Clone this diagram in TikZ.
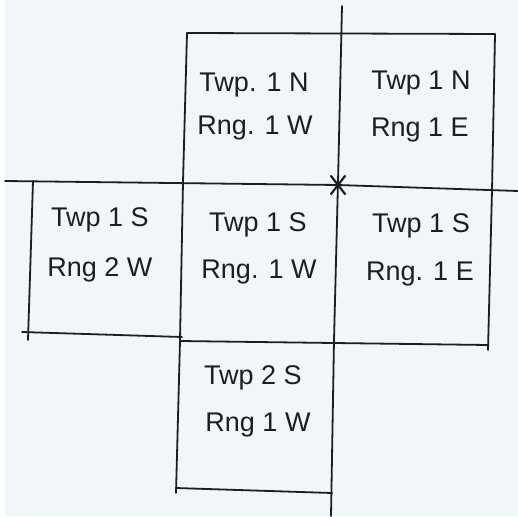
\documentclass[tikz,border=0pt]{standalone}
\usepackage{fontspec}
\setmainfont{Liberation Sans}
\definecolor{paper}{HTML}{F1F6F8}
\definecolor{pencil}{HTML}{1E1E22}
\begin{document}
\begin{tikzpicture}[x=1pt,y=-1pt,
  rule/.style={draw=pencil,line width=1.8pt,line cap=round},
  label/.style={font=\fontsize{27}{30}\selectfont,text=pencil,inner sep=0pt}]
  % paper
  \fill[white] (0,0) rectangle (518,516);
  \fill[paper] (5,0) rectangle (518,516);
  \useasboundingbox (0,0) rectangle (518,516);

  % range line and baseline through the corner
  \draw[rule] (342,6) -- (338,182) -- (334,340) -- (331,516);
  \draw[rule] (5,181) -- (338,185) -- (518,191);

  % top row
  \draw[rule] (187,33) -- (495,34);
  \draw[rule] (187,33) -- (183,182);
  \draw[rule] (495,34) -- (492,190);

  % middle row
  \draw[rule] (33,181) -- (28,340);
  \draw[rule] (22,332) -- (182,337);
  \draw[rule] (183,182) -- (180,340);
  \draw[rule] (180,341) -- (488,345);
  \draw[rule] (492,190) -- (488,350);

  % bottom township
  \draw[rule] (180,341) -- (176,493);
  \draw[rule] (176,488) -- (332,493);

  % corner mark
  \draw[rule,line width=2.2pt] (331,176) -- (345,194);
  \draw[rule,line width=2.2pt] (345,176) -- (331,194);

  % township / range labels
  \node[label] (t1) at (254,85)  {Twp. 1 N};
  \node[label] (r1) at (255,128) {Rng. 1 W};
  \node[label] (t2) at (421,83)  {Twp 1 N};
  \node[label] (r2) at (420,130) {Rng 1 E};
  \node[label] (t3) at (100,220) {Twp 1 S};
  \node[label] (r3) at (100,270) {Rng 2 W};
  \node[label] (t4) at (258,225) {Twp 1 S};
  \node[label] (r4) at (259,272) {Rng. 1 W};
  \node[label] (t5) at (421,226) {Twp 1 S};
  \node[label] (r5) at (420,274) {Rng. 1 E};
  \node[label] (t6) at (253,378) {Twp 2 S};
  \node[label] (r6) at (258,425) {Rng 1 W};
\end{tikzpicture}
\end{document}
